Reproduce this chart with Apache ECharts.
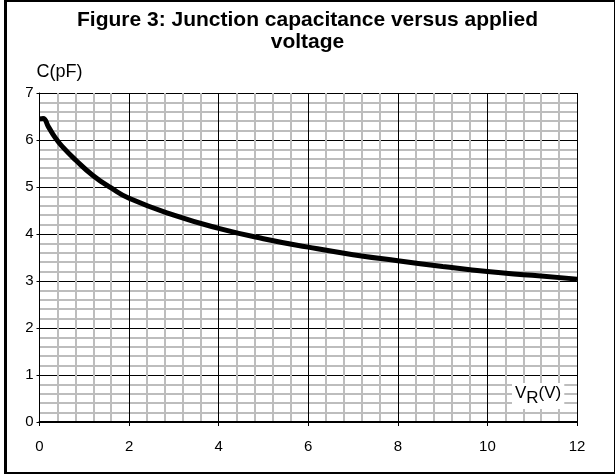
<!DOCTYPE html>
<html><head><meta charset="utf-8">
<script src="https://cdn.jsdelivr.net/npm/echarts@6/dist/echarts.min.js"></script>
<style>
html,body{margin:0;padding:0;background:#fff;}
#frame{position:absolute;left:4px;top:0;width:607px;height:470px;border:2px solid #000;border-left:3px solid #000;}
#c{position:absolute;left:0;top:0;width:615px;height:474px;}
</style></head><body>
<div id="frame"></div>
<div id="c"></div>
<script>
const vr = [0, 0.08, 0.2, 0.35, 0.5, 0.8, 1.2, 1.6, 2, 3, 4, 5, 6, 7, 8, 9, 10, 11, 12];
const cap = [6.45, 6.46, 6.28, 6.05, 5.87, 5.58, 5.24, 4.98, 4.76, 4.40, 4.12, 3.90, 3.72, 3.56, 3.43, 3.31, 3.20, 3.12, 3.04];
const titleText = 'Figure 3: Junction capacitance versus applied\nvoltage';
const yName = 'C(pF)';

const chart = echarts.init(document.getElementById('c'));
chart.setOption({
  animation: false,
  title: {
    text: titleText, left: 'center', top: 4,
    textStyle: {fontFamily: 'Liberation Sans', fontWeight: 'bold', fontSize: 21, lineHeight: 22, color: '#000'}
  },
  grid: {left: 39.5, right: 38, top: 93, bottom: 52},
  xAxis: {
    type: 'value', min: 0, max: 12, interval: 2,
    axisLine: {show: true, onZero: false, lineStyle: {color: '#000', width: 2}},
    axisTick: {show: true, length: 4, lineStyle: {color: '#000'}},
    axisLabel: {color: '#000', fontFamily: 'Liberation Sans', fontSize: 15, margin: 17},
    splitLine: {show: true, lineStyle: {color: '#000', width: 1}},
    minorTick: {show: false, splitNumber: 5},
    minorSplitLine: {show: true, lineStyle: {color: '#bdbdbd', width: 2}}
  },
  yAxis: {
    type: 'value', min: 0, max: 7, interval: 1,
    name: yName, nameLocation: 'end', nameGap: 12,
    nameTextStyle: {color: '#000', fontFamily: 'Liberation Sans', fontSize: 18, align: 'left', padding: [0, 0, 0, -3]},
    axisLine: {show: true, lineStyle: {color: '#000', width: 1}},
    axisTick: {show: true, length: 3, lineStyle: {color: '#000'}},
    axisLabel: {color: '#000', fontFamily: 'Liberation Sans', fontSize: 15, margin: 6},
    splitLine: {show: true, lineStyle: {color: '#000', width: 1}},
    minorTick: {show: false, splitNumber: 5},
    minorSplitLine: {show: true, lineStyle: {color: '#bdbdbd', width: 2}}
  },
  graphic: [{
    type: 'text', left: 512, top: 381, z: 100,
    style: {
      text: '{v|V}{s|R}{v|(V)}',
      backgroundColor: '#fff', padding: [2, 3, 2, 3],
      rich: {
        v: {fontFamily: 'Liberation Sans', fontSize: 17, fill: '#000', color: '#000', verticalAlign: 'top', lineHeight: 22},
        s: {fontFamily: 'Liberation Sans', fontSize: 17, fill: '#000', color: '#000', verticalAlign: 'bottom', lineHeight: 22, padding: [9, 0, 0, 0]}
      }
    }
  }],
  series: [{
    type: 'line', smooth: 0.5, symbol: 'none', z: 10,
    lineStyle: {color: '#000', width: 5},
    data: vr.map((x, i) => [x, cap[i]])
  }]
});
</script>
</body></html>
